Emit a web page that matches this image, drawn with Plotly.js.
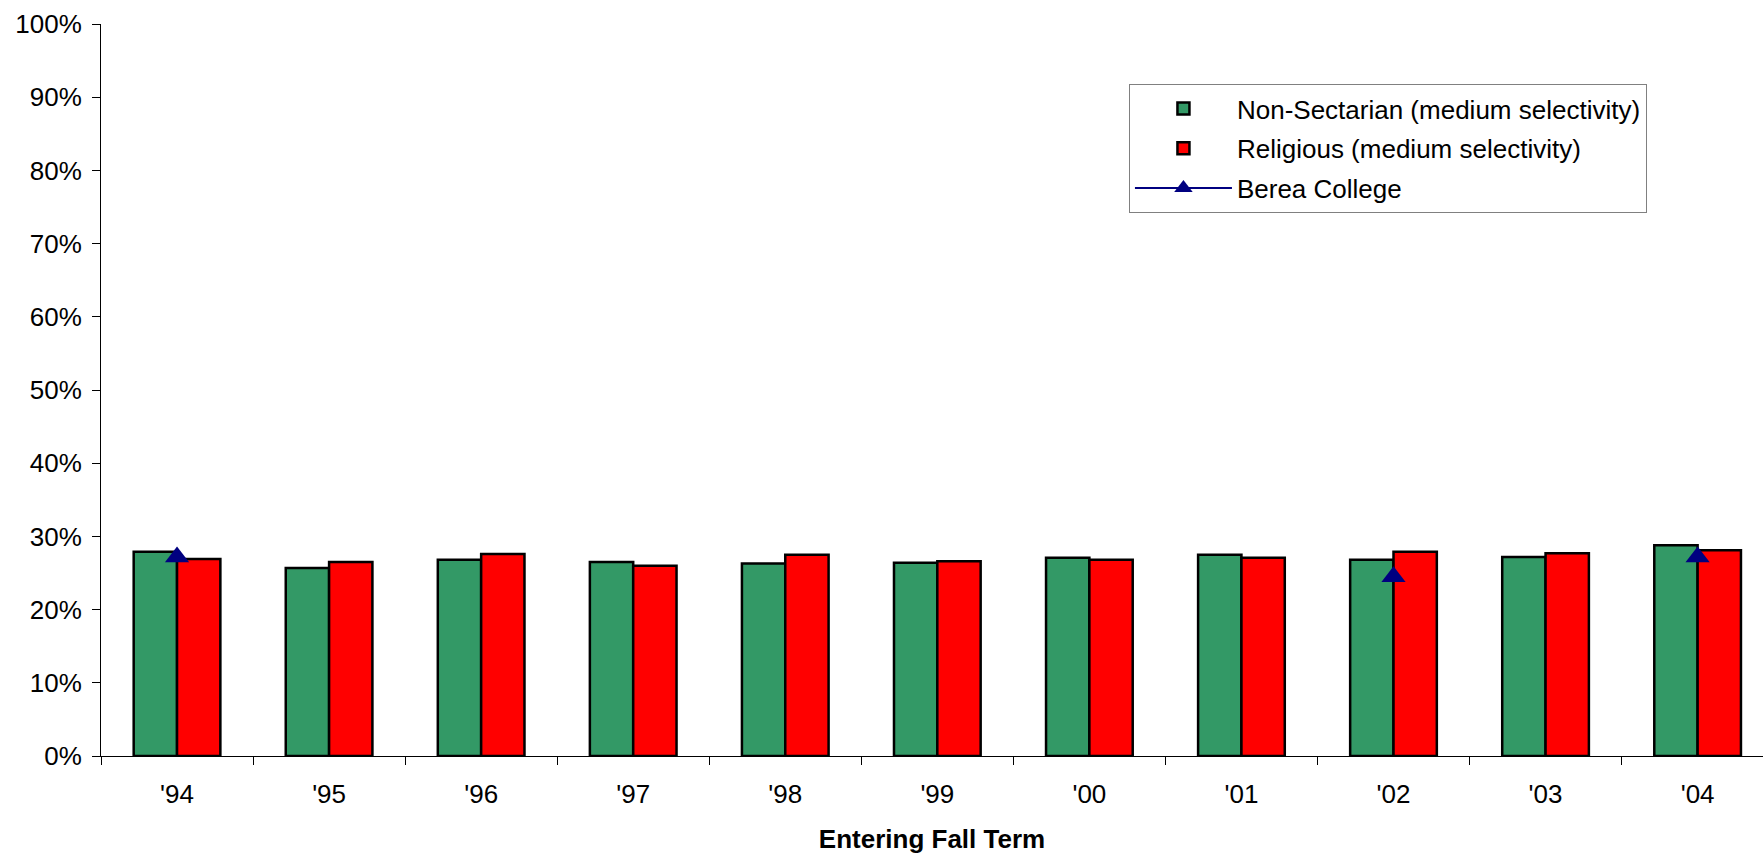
<!DOCTYPE html>
<html>
<head>
<meta charset="utf-8">
<script src="https://cdn.plot.ly/plotly-3.0.1.min.js"></script>
<style>
  html, body { margin: 0; padding: 0; background: #fff; }
  #chart { width: 1763px; height: 854px; }
</style>
</head>
<body>
<div id="chart"></div>
<script>
const years = ["'94", "'95", "'96", "'97", "'98", "'99", "'00", "'01", "'02", "'03", "'04"];
const nonSectarian = [0.279, 0.257, 0.268, 0.265, 0.263, 0.264, 0.271, 0.275, 0.268, 0.272, 0.288];
const religious    = [0.269, 0.265, 0.276, 0.260, 0.275, 0.266, 0.268, 0.271, 0.279, 0.277, 0.281];
const berea        = [0.272, null, null, null, null, null, null, null, 0.245, null, 0.272];
const yTickVals = [0, 0.1, 0.2, 0.3, 0.4, 0.5, 0.6, 0.7, 0.8, 0.9, 1.0];
const yTickText = ["0%", "10%", "20%", "30%", "40%", "50%", "60%", "70%", "80%", "90%", "100%"];

const FONT = "Liberation Sans, Arial, sans-serif";
const FS = 26;

const traces = [
  {
    type: "bar", name: "Non-Sectarian (medium selectivity)", x: years, y: nonSectarian,
    marker: { color: "#339966", line: { color: "#000000", width: 2.5 } },
    legendgroup: "a"
  },
  {
    type: "bar", name: "Religious (medium selectivity)", x: years, y: religious,
    marker: { color: "#FF0000", line: { color: "#000000", width: 2.5 } },
    legendgroup: "b"
  },
  {
    type: "scatter", mode: "lines+markers", name: "Berea College", x: years, y: berea,
    connectgaps: false,
    line: { color: "#000080", width: 2 },
    marker: { symbol: "triangle-up", size: 21, color: "#000080" },
    legendgroup: "c"
  }
];

const layout = {
  width: 1763, height: 854,
  margin: { l: 101, r: 0, t: 24, b: 98 },
  paper_bgcolor: "#ffffff", plot_bgcolor: "#ffffff",
  font: { family: FONT, size: FS, color: "#000000" },
  barmode: "group", bargap: 0.43, bargroupgap: 0,
  showlegend: true,
  legend: {
    x: 0.6185, y: 0.918, xanchor: "left", yanchor: "top",
    bgcolor: "#ffffff", bordercolor: "#808080", borderwidth: 1,
    font: { family: FONT, size: FS, color: "#000000" },
    traceorder: "grouped", tracegroupgap: 3, itemwidth: 97
  },
  xaxis: {
    type: "category", range: [-0.5, 10.43], fixedrange: true,
    showline: true, linecolor: "#000000", linewidth: 1,
    ticks: "outside", ticklen: 8, tickcolor: "#000000", tickwidth: 1,
    tickson: "boundaries", showgrid: false, zeroline: false,
    tickfont: { family: FONT, size: FS, color: "#000000" },
    ticklabelstandoff: 15,
    title: { text: "<b>Entering Fall Term</b>", font: { family: FONT, size: FS, color: "#000000" }, standoff: 22 }
  },
  xaxis2: {
    type: "linear", overlaying: "x", anchor: "y", range: [-0.5, 10.43], fixedrange: true,
    tickmode: "linear", tick0: -0.5, dtick: 1,
    ticks: "inside", ticklen: 8, tickcolor: "#000000", tickwidth: 1,
    showticklabels: false, showgrid: false, zeroline: false, showline: false
  },
  yaxis: {
    range: [0, 1], fixedrange: true,
    tickvals: yTickVals, ticktext: yTickText,
    showline: true, linecolor: "#000000", linewidth: 1,
    ticks: "outside", ticklen: 8, tickcolor: "#000000", tickwidth: 1,
    showgrid: false, zeroline: false,
    tickfont: { family: FONT, size: FS, color: "#000000" },
    ticklabelstandoff: 5
  },
  yaxis2: {
    range: [0, 1], fixedrange: true, overlaying: "y", anchor: "x", side: "left",
    tickvals: yTickVals, ticks: "inside", ticklen: 8, tickcolor: "#000000", tickwidth: 1,
    showticklabels: false, showgrid: false, zeroline: false, showline: false
  }
};

Plotly.newPlot("chart", traces, layout, { displayModeBar: false, staticPlot: true });
</script>
</body>
</html>
